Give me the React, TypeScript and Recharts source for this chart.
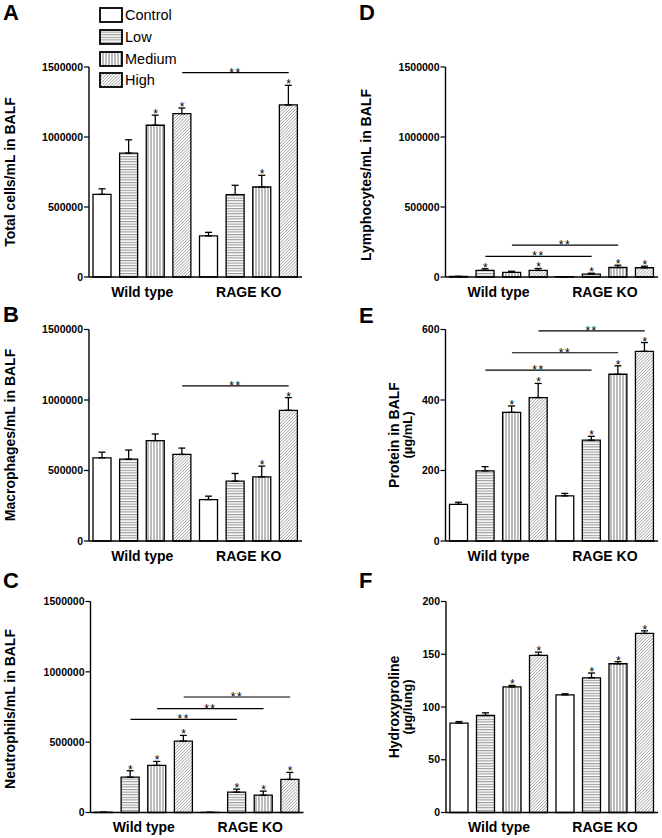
import React from 'react';
import { BarChart, Bar, XAxis, YAxis, Cell, ErrorBar, ReferenceLine, ReferenceDot } from 'recharts';

const FONT = '"Liberation Sans", Arial, Helvetica, sans-serif';

const groups = ['Wild type', 'RAGE KO'];
const doses = ['Control', 'Low', 'Medium', 'High'];

// A - total cells
const totalCells = [590000, 885000, 1084000, 1167000, 294000, 589000, 643000, 1229000];
const totalCellsErr = [40000, 95000, 72000, 40000, 25000, 66000, 83000, 140000];
const totalCellsStars = [2, 3, 6, 7];
const totalCellsSig = [[3, 7, 1460000]];

// B - macrophages
const macrophages = [590000, 580000, 712000, 614000, 294000, 425000, 455000, 927000];
const macrophagesErr = [40000, 65000, 47000, 45000, 24000, 54000, 76000, 90000];
const macrophagesStars = [6, 7];
const macrophagesSig = [[3, 7, 1100000]];

// C - neutrophils
const neutrophils = [2000, 251000, 335000, 508000, 1000, 145000, 123000, 235000];
const neutrophilsErr = [0, 46000, 28000, 40000, 0, 21000, 29000, 50000];
const neutrophilsStars = [1, 2, 3, 5, 6, 7];
const neutrophilsSig = [[1, 5, 662000], [2, 6, 738000], [3, 7, 821000]];

// D - lymphocytes
const lymphocytes = [4000, 48000, 33000, 47000, 2000, 21000, 68000, 66000];
const lymphocytesErr = [0, 11000, 8000, 14000, 0, 6000, 16000, 11000];
const lymphocytesStars = [1, 3, 5, 6, 7];
const lymphocytesSig = [[1, 5, 147000], [2, 6, 228000]];

// E - protein
const protein = [104, 199, 365, 407, 128, 286, 473, 538];
const proteinErr = [6, 12, 18, 40, 7, 11, 24, 25];
const proteinStars = [2, 3, 5, 6, 7];
const proteinSig = [[1, 5, 485], [2, 6, 534], [3, 7, 596]];

// F - hydroxyproline
const hydroxyproline = [84.7, 92, 119, 149, 111.5, 127.7, 141, 169.7];
const hydroxyprolineErr = [1.5, 2.5, 1.5, 3, 1, 4.5, 2, 2.5];
const hydroxyprolineStars = [2, 3, 5, 6, 7];
const hydroxyprolineSig: number[][] = [];

const cellTicks = [0, 500000, 1000000, 1500000];
const proteinTicks = [0, 200, 400, 600];
const hypTicks = [0, 50, 100, 150, 200];

const ids = groups.flatMap((g) => doses.map((d) => `${g}|${d}`));

function makeRows(values: number[], errs: number[]) {
  return ids.map((id, i) => ({
    id,
    group: groups[Math.floor(i / 4)],
    dose: doses[i % 4],
    value: values[i],
    err: [0, errs[i]],
  }));
}

function Patterns({ p }: { p: string }) {
  return (
    <defs>
      <pattern id={`${p}-low`} patternUnits="userSpaceOnUse" width="4" height="2.6">
        <rect width="4" height="2.6" fill="#fff" />
        <line x1="0" y1="0.6" x2="4" y2="0.6" stroke="#808080" strokeWidth="0.9" />
      </pattern>
      <pattern id={`${p}-med`} patternUnits="userSpaceOnUse" width="3" height="4">
        <rect width="3" height="4" fill="#fff" />
        <line x1="1" y1="0" x2="1" y2="4" stroke="#555" strokeWidth="0.8" />
      </pattern>
      <pattern id={`${p}-high`} patternUnits="userSpaceOnUse" width="2.2" height="2.2" patternTransform="rotate(45)">
        <rect width="2.2" height="2.2" fill="#fff" />
        <line x1="0" y1="0" x2="0" y2="2.2" stroke="#666" strokeWidth="0.9" />
      </pattern>
    </defs>
  );
}

const fillFor = (p: string, i: number) =>
  ['#fff', `url(#${p}-low)`, `url(#${p}-med)`, `url(#${p}-high)`][i % 4];

type Geo = { left: number; top: number; axisX: number; plotTop: number; plotBottom: number; plotRight: number };

function Panel({ pid, geo, values, errs, stars, sig, yMax, yTicks }: {
  pid: string; geo: Geo; values: number[]; errs: number[]; stars: number[]; sig: number[][]; yMax: number; yTicks: number[];
}) {
  const rows = makeRows(values, errs);
  const width = geo.plotRight - geo.left + 4;
  const height = geo.plotBottom - geo.top + 30;
  return (
    <div style={{ position: 'absolute', left: geo.left, top: geo.top }}>
      <BarChart
        width={width}
        height={height}
        data={rows}
        margin={{ top: geo.plotTop - geo.top, right: 4, bottom: 0, left: 0 }}
      >
        <Patterns p={pid} />
        <XAxis xAxisId="bar" dataKey="id" hide height={0} />
        <XAxis
          xAxisId="grp"
          dataKey="group"
          allowDuplicatedCategory={false}
          tickLine={false}
          axisLine={{ stroke: '#000', strokeWidth: 1.4 }}
          tick={{ fill: '#000', fontSize: 14, fontWeight: 'bold', fontFamily: FONT }}
          tickSize={8}
          tickMargin={2}
          height={30}
        />
        <YAxis
          width={geo.axisX - geo.left}
          domain={[0, yMax]}
          ticks={yTicks}
          interval={0}
          axisLine={{ stroke: '#000', strokeWidth: 1.4 }}
          tickLine={{ stroke: '#000', strokeWidth: 1.2 }}
          tickSize={5}
          tickMargin={1}
          tick={{ fill: '#000', fontSize: 10.5, fontWeight: 'bold', fontFamily: FONT }}
        />
        <Bar xAxisId="bar" dataKey="value" barSize={18} stroke="#000" strokeWidth={1.3} isAnimationActive={false}>
          {rows.map((r, i) => (
            <Cell key={r.id} fill={fillFor(pid, i)} />
          ))}
          <ErrorBar dataKey="err" direction="y" width={3.5} stroke="#000" strokeWidth={1.3} />
        </Bar>
        {sig.map(([a, b, y]) => (
          <ReferenceLine
            key={`s${a}-${b}`}
            xAxisId="bar"
            segment={[{ x: ids[a], y }, { x: ids[b], y }]}
            stroke="#000"
            strokeWidth={1.2}
            label={{ value: '**', position: 'top', offset: -4, fill: '#000', fontSize: 12, fontFamily: FONT, letterSpacing: 1.5 }}
          />
        ))}
        {stars.map((i) => (
          <ReferenceDot
            key={`d${i}`}
            xAxisId="bar"
            x={ids[i]}
            y={values[i] + errs[i]}
            r={0}
            fill="none"
            stroke="none"
            label={{ value: '*', position: 'top', offset: -3, fill: '#000', fontSize: 12, fontFamily: FONT }}
          />
        ))}
      </BarChart>
    </div>
  );
}

function Letter({ ch, x, y }: { ch: string; x: number; y: number }) {
  return (
    <div style={{ position: 'absolute', left: x, top: y - 2.9, fontSize: 22, fontWeight: 'bold', lineHeight: 1, fontFamily: FONT }}>
      {ch}
    </div>
  );
}

function Title({ lines, x, y }: { lines: string[]; x: number; y: number }) {
  return (
    <div
      style={{
        position: 'absolute',
        left: x,
        top: y,
        transform: 'translate(-50%, -50%) rotate(-90deg)',
        whiteSpace: 'nowrap',
        textAlign: 'center',
        fontWeight: 'bold',
        fontFamily: FONT,
        lineHeight: '14px',
      }}
    >
      {lines.map((l, i) => (
        <div key={l} style={{ fontSize: i === 0 ? 14 : 13 }}>{l}</div>
      ))}
    </div>
  );
}

function LegendBox({ i }: { i: number }) {
  const p = `lg${i}`;
  return (
    <svg width={24} height={16} style={{ display: 'block' }}>
      <Patterns p={p} />
      <rect x={1} y={1} width={22} height={14} fill={fillFor(p, i)} stroke="#000" strokeWidth={1.8} />
    </svg>
  );
}

export default function App() {
  const legendTops = [7, 29, 51, 72];
  return (
    <div style={{ position: 'absolute', left: 0, top: 0, width: 662, height: 838, background: '#fff', fontFamily: FONT, overflow: 'hidden' }}>
      <Panel pid="pa" geo={{ left: 0, top: 0, axisX: 89, plotTop: 67, plotBottom: 277, plotRight: 302 }}
        values={totalCells} errs={totalCellsErr} stars={totalCellsStars} sig={totalCellsSig} yMax={1500000} yTicks={cellTicks} />
      <Panel pid="pb" geo={{ left: 0, top: 280, axisX: 89, plotTop: 329.5, plotBottom: 541, plotRight: 302 }}
        values={macrophages} errs={macrophagesErr} stars={macrophagesStars} sig={macrophagesSig} yMax={1500000} yTicks={cellTicks} />
      <Panel pid="pc" geo={{ left: 0, top: 555, axisX: 90.5, plotTop: 601.5, plotBottom: 812.5, plotRight: 303.5 }}
        values={neutrophils} errs={neutrophilsErr} stars={neutrophilsStars} sig={neutrophilsSig} yMax={1500000} yTicks={cellTicks} />
      <Panel pid="pd" geo={{ left: 331, top: 0, axisX: 445.5, plotTop: 67, plotBottom: 277, plotRight: 658 }}
        values={lymphocytes} errs={lymphocytesErr} stars={lymphocytesStars} sig={lymphocytesSig} yMax={1500000} yTicks={cellTicks} />
      <Panel pid="pe" geo={{ left: 331, top: 280, axisX: 445.5, plotTop: 329.5, plotBottom: 541, plotRight: 658 }}
        values={protein} errs={proteinErr} stars={proteinStars} sig={proteinSig} yMax={600} yTicks={proteinTicks} />
      <Panel pid="pf" geo={{ left: 331, top: 555, axisX: 446, plotTop: 601.5, plotBottom: 812.5, plotRight: 658 }}
        values={hydroxyproline} errs={hydroxyprolineErr} stars={hydroxyprolineStars} sig={hydroxyprolineSig} yMax={200} yTicks={hypTicks} />

      <Title lines={['Total cells/mL in BALF']} x={9.5} y={172} />
      <Title lines={['Macrophages/mL in BALF']} x={9.5} y={435} />
      <Title lines={['Neutrophils/mL in BALF']} x={10} y={709} />
      <Title lines={['Lymphocytes/mL in BALF']} x={366} y={175} />
      <Title lines={['Protein in BALF', '(µg/mL)']} x={401} y={435} />
      <Title lines={['Hydroxyproline', '(µg/lung)']} x={400.5} y={707} />

      <Letter ch="A" x={3} y={5} />
      <Letter ch="B" x={3} y={307} />
      <Letter ch="C" x={3} y={573} />
      <Letter ch="D" x={359} y={5} />
      <Letter ch="E" x={359} y={308} />
      <Letter ch="F" x={359} y={573} />

      <div style={{ position: 'absolute', left: 99, top: 0 }}>
        {doses.map((d, i) => (
          <div key={d} style={{ position: 'absolute', left: 0, top: legendTops[i], display: 'flex', alignItems: 'center', height: 16 }}>
            <LegendBox i={i} />
            <span style={{ fontSize: 14.5, marginLeft: 2, lineHeight: '16px', whiteSpace: 'nowrap' }}>{d}</span>
          </div>
        ))}
      </div>
    </div>
  );
}
